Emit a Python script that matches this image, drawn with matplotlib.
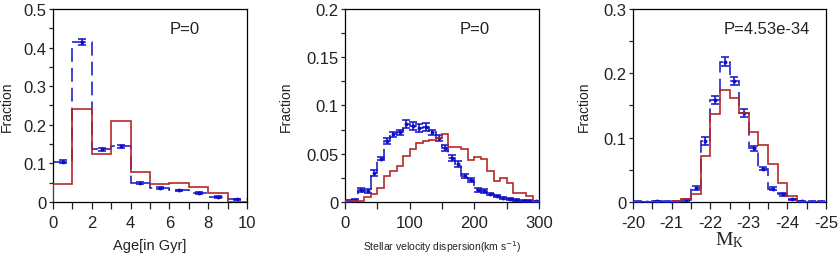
import numpy as np
import matplotlib
matplotlib.use("Agg")
import matplotlib.pyplot as plt
from matplotlib.ticker import MultipleLocator, FormatStrFormatter

plt.rcParams["font.family"] = ["Liberation Sans", "DejaVu Sans"]

RED = "#b5272a"
BLUE = "#0f0fc8"

# panel 1: age
age_edges = np.arange(0, 11, 1)
age_red = [0.046, 0.240, 0.125, 0.209, 0.077, 0.046, 0.048, 0.040, 0.022, 0.0]
age_blue = [0.104, 0.415, 0.136, 0.144, 0.049, 0.036, 0.030, 0.023, 0.013, 0.007]
age_err = [0.004, 0.008, 0.005, 0.004, 0.003, 0.002, 0.002, 0.002, 0.002, 0.001]

# panel 2: stellar velocity dispersion
sig_edges = np.arange(0, 310, 10)
sig_red = [0.0005, 0.001, 0.0015, 0.005, 0.008, 0.015, 0.027, 0.032, 0.037, 0.048,
           0.055, 0.061, 0.063, 0.064, 0.066, 0.070, 0.057, 0.0565, 0.055, 0.0435,
           0.047, 0.0444, 0.0317, 0.022, 0.0245, 0.0196, 0.0093, 0.0093, 0.006, 0.0]
sig_blue = [0.001, 0.002, 0.0125, 0.011, 0.030, 0.045, 0.063, 0.070, 0.072, 0.081,
            0.079, 0.077, 0.078, 0.072, 0.066, 0.056, 0.0455, 0.039, 0.027, 0.023,
            0.0125, 0.011, 0.008, 0.006, 0.004, 0.003, 0.002, 0.0015, 0.001, 0.0005]
sig_err = [0.001, 0.001, 0.002, 0.002, 0.003, 0.002, 0.003, 0.003, 0.003, 0.004,
           0.004, 0.004, 0.004, 0.003, 0.003, 0.003, 0.003, 0.003, 0.002, 0.002,
           0.002, 0.002, 0.001, 0.001, 0.001, 0.001, 0.001, 0.001, 0.001, 0.0005]

# panel 3: K-band absolute magnitude
mk_edges = np.arange(-20, -25.01, -0.25)
mk_red = [0.0, 0.0, 0.0, 0.0005, 0.001, 0.004, 0.013, 0.071, 0.136, 0.174,
          0.162, 0.139, 0.109, 0.089, 0.059, 0.029, 0.009, 0.0, 0.0, 0.0]
mk_blue = [0.0005, 0.0, 0.001, 0.0005, 0.0005, 0.003, 0.0216, 0.095, 0.159, 0.218,
           0.188, 0.138, 0.0835, 0.052, 0.0206, 0.012, 0.004, 0.001, 0.0005, 0.0005]
mk_err = [0.0005, 0.0005, 0.0005, 0.0005, 0.0005, 0.001, 0.003, 0.006, 0.006, 0.007,
          0.006, 0.006, 0.004, 0.003, 0.002, 0.002, 0.001, 0.0005, 0.0005, 0.0005]


def panel(ax, edges, red, blue, err, xlim, ylim, xmaj, xmin, ymaj, ymin, ptext, px):
    edges = np.asarray(edges)
    centers = 0.5 * (edges[:-1] + edges[1:])
    ax.stairs(blue, edges, baseline=None, color=BLUE, lw=1.1,
              linestyle=(0, (9, 4)), zorder=2)
    ax.errorbar(centers, blue, yerr=err, fmt="o", ms=1.8, color=BLUE,
                elinewidth=1.1, capsize=3, capthick=1.1, zorder=3)
    ax.stairs(red, edges, color=RED, lw=1.2, zorder=4)
    ax.set_xlim(*xlim)
    ax.set_ylim(*ylim)
    ax.xaxis.set_major_locator(MultipleLocator(xmaj))
    ax.xaxis.set_minor_locator(MultipleLocator(xmin))
    ax.yaxis.set_major_locator(MultipleLocator(ymaj))
    ax.yaxis.set_minor_locator(MultipleLocator(ymin))
    ax.yaxis.set_major_formatter(FormatStrFormatter("%g"))
    ax.xaxis.set_major_formatter(FormatStrFormatter("%g"))
    ax.tick_params(which="both", direction="out", width=0.9, top=False,
                   right=False, labelsize=12, colors="#222222")
    ax.tick_params(axis="x", which="both", length=5, pad=4.5)
    ax.tick_params(axis="y", which="both", length=3, pad=1.5)
    for s in ax.spines.values():
        s.set_linewidth(0.9)
    ax.text(px, 0.9, ptext, transform=ax.transAxes, fontsize=12,
            va="center", ha="left", color="#222222")
    ax.set_ylabel("Fraction", fontsize=10, color="#222222")


fig = plt.figure(figsize=(8.39, 2.55), dpi=100)
ax1 = fig.add_axes([0.0632, 0.204, 0.2312, 0.757])
ax2 = fig.add_axes([0.4112, 0.204, 0.2312, 0.757])
ax3 = fig.add_axes([0.7545, 0.204, 0.2300, 0.757])

panel(ax1, age_edges, age_red, age_blue, age_err, (0, 10), (0, 0.5),
      2, 1, 0.1, 0.05, "P=0", 0.60)
ax1.set_xlabel("Age[in Gyr]", fontsize=10.5, color="#222222")
ax1.yaxis.set_label_coords(-0.2, 0.5)
ax1.xaxis.set_label_coords(0.5, -0.185)

panel(ax2, sig_edges, sig_red, sig_blue, sig_err, (0, 300), (0, 0.2),
      100, 50, 0.05, 0.025, "P=0", 0.59)
ax2.set_xlabel(r"Stellar velocity dispersion(km s$^{-1}$)", fontsize=7.5,
               color="#222222")
ax2.yaxis.set_label_coords(-0.268, 0.5)
ax2.xaxis.set_label_coords(0.5, -0.19)

panel(ax3, mk_edges, mk_red, mk_blue, mk_err, (-20, -25), (0, 0.3),
      1, 0.5, 0.1, 0.05, "P=4.53e-34", 0.47)
ax3.set_xlabel(r"$\mathregular{M_K}$", fontsize=14, family="Liberation Serif",
               color="#222222")
ax3.yaxis.set_label_coords(-0.22, 0.5)
ax3.xaxis.set_label_coords(0.5, -0.14)

fig.savefig("out.png", dpi=100)
plt.close()
